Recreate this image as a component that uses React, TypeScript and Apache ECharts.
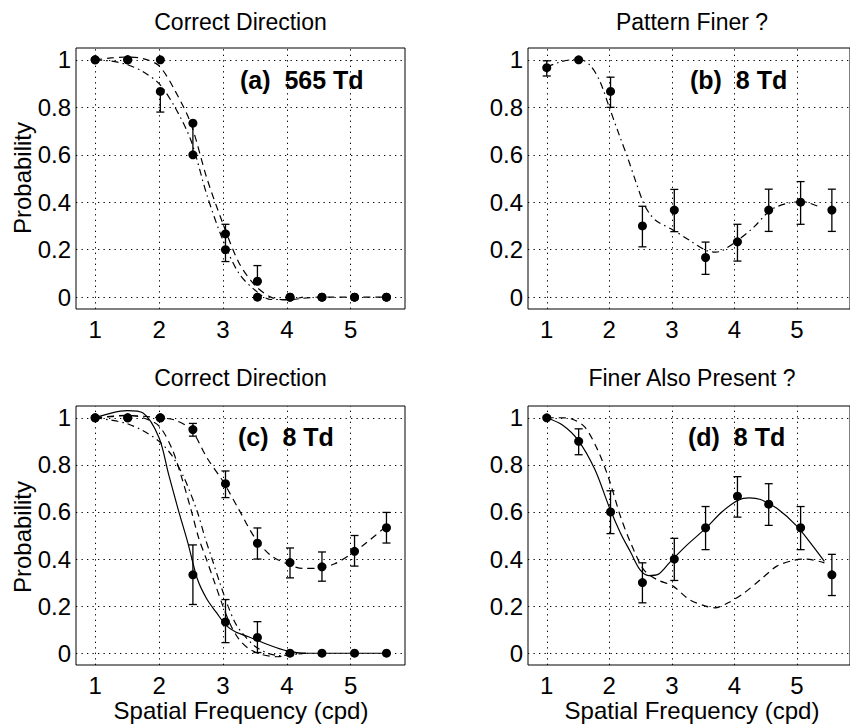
import React, { useEffect, useRef } from "react";
import * as echarts from "echarts";

const FONT = "'Liberation Sans', Arial, Helvetica, sans-serif";

// measured spatial frequencies (cpd)
const xPts = [1.0, 1.51, 2.02, 2.53, 3.04, 3.54, 4.05, 4.55, 5.06, 5.56];
const xTicks = [1, 2, 3, 4, 5];
const yTicks = [0, 0.2, 0.4, 0.6, 0.8, 1];

const titles = ["Correct Direction", "Pattern Finer ?", "Correct Direction", "Finer Also Present ?"];
const panelLabels = ["(a)  565 Td", "(b)  8 Td", "(c)  8 Td", "(d)  8 Td"];

// (a) 565 Td
const aSet1 = [1, 1, 1, 0.733, 0.267, 0.067, 0, 0, 0, 0];
const aSet2 = [1, 1, 0.867, 0.6, 0.2, 0, 0, 0, 0, 0];
const aErr = [[2.02, 0.78, 0.867], [2.53, 0.6, 0.733], [3.04, 0.15, 0.307], [3.54, 0.067, 0.133]];
const aDashX = [1, 1.25, 1.5, 1.75, 2, 2.25, 2.5, 2.75, 3, 3.25, 3.5, 3.75, 4, 4.25, 4.5, 5, 5.56];
const aDashY = [1, 1.008, 1.012, 1.005, 0.975, 0.87, 0.73, 0.5, 0.31, 0.145, 0.05, 0.0, -0.012, -0.005, 0, 0, 0];
const aDotX = [1, 1.25, 1.5, 1.75, 2, 2.25, 2.5, 2.75, 3, 3.25, 3.5, 3.75, 4, 4.25];
const aDotY = [1, 0.995, 0.98, 0.95, 0.9, 0.8, 0.66, 0.43, 0.24, 0.1, 0.03, -0.01, -0.01, 0];

// (b) Pattern finer
const bSet = [0.967, 1.0, 0.867, 0.3, 0.367, 0.167, 0.233, 0.367, 0.4, 0.367];
const bErr = [[1.0, 0.932, 0.996], [2.02, 0.8, 0.927], [2.53, 0.212, 0.383], [3.04, 0.276, 0.454], [3.54, 0.096, 0.232], [4.05, 0.152, 0.307], [4.55, 0.277, 0.455], [5.06, 0.307, 0.487], [5.56, 0.277, 0.455]];
const bCurveX = [1, 1.2, 1.4, 1.55, 1.7, 1.85, 2.0, 2.15, 2.29, 2.42, 2.55, 2.65, 2.76, 3.02, 3.28, 3.54, 3.7, 3.8, 4.06, 4.32, 4.58, 4.84, 5.1, 5.33];
const bCurveY = [0.97, 0.99, 1.0, 1.0, 0.975, 0.91, 0.8, 0.69, 0.59, 0.49, 0.395, 0.35, 0.32, 0.283, 0.24, 0.198, 0.19, 0.195, 0.24, 0.297, 0.367, 0.395, 0.402, 0.384];

// (c) 8 Td
const cSet1 = [1, 1, 1, 0.95, 0.72, 0.467, 0.385, 0.367, 0.433, 0.533];
const cSet2 = [1, 1, 1, 0.333, 0.133, 0.067, 0, 0, 0, 0];
const cErr = [[2.53, 0.922, 0.976], [3.04, 0.661, 0.774], [3.54, 0.4, 0.532], [4.05, 0.32, 0.447], [4.55, 0.306, 0.43], [5.06, 0.37, 0.5], [5.56, 0.468, 0.598], [2.53, 0.207, 0.46], [3.04, 0.045, 0.228], [3.54, 0.003, 0.134]];
const cUpperX = [1, 1.5, 2, 2.25, 2.5, 2.75, 3.0, 3.25, 3.5, 3.75, 4.0, 4.25, 4.5, 4.75, 5.0, 5.25, 5.56];
const cUpperY = [1, 1.01, 1.0, 0.99, 0.95, 0.83, 0.73, 0.61, 0.49, 0.415, 0.38, 0.36, 0.36, 0.38, 0.42, 0.47, 0.54];
const cSolidX = [1, 1.25, 1.5, 1.75, 2.0, 2.15, 2.3, 2.45, 2.6, 2.75, 2.9, 3.05, 3.2, 3.4, 3.7, 4.0, 4.3, 5.56];
const cSolidY = [1, 1.02, 1.03, 1.02, 0.915, 0.76, 0.61, 0.47, 0.315, 0.229, 0.172, 0.118, 0.09, 0.07, 0.037, 0.01, 0, 0];
const cMidX = [1, 1.25, 1.5, 1.75, 2.0, 2.2, 2.35, 2.5, 2.62, 2.74, 2.87, 3.0, 3.12, 3.25, 3.4, 3.6, 3.85, 4.1, 4.3];
const cMidY = [1, 1.005, 1.01, 1.0, 0.965, 0.87, 0.75, 0.61, 0.49, 0.4, 0.3, 0.2, 0.12, 0.06, 0.02, -0.005, -0.015, -0.005, 0];
const cDotX = [1, 1.25, 1.5, 1.75, 2.0, 2.2, 2.4, 2.6, 2.72, 2.83, 2.95, 3.08, 3.2, 3.32, 3.5, 3.7, 3.9, 4.1, 4.3];
const cDotY = [1, 0.99, 0.975, 0.945, 0.9, 0.84, 0.74, 0.6, 0.49, 0.4, 0.3, 0.2, 0.125, 0.08, 0.03, 0.0, -0.01, -0.005, 0];

// (d) Finer also present
const dSet = [1, 0.9, 0.6, 0.3, 0.4, 0.533, 0.667, 0.633, 0.533, 0.333];
const dErr = [[1.51, 0.843, 0.953], [2.02, 0.508, 0.69], [2.53, 0.214, 0.384], [3.04, 0.309, 0.488], [3.54, 0.44, 0.623], [4.05, 0.578, 0.75], [4.55, 0.543, 0.72], [5.06, 0.44, 0.623], [5.56, 0.245, 0.42]];
const dSolidX = [1, 1.245, 1.5, 1.77, 2.0, 2.18, 2.34, 2.49, 2.63, 2.78, 2.96, 3.22, 3.54, 3.8, 4.06, 4.24, 4.42, 4.68, 5.0, 5.26, 5.44];
const dSolidY = [1, 0.97, 0.905, 0.78, 0.62, 0.51, 0.43, 0.355, 0.33, 0.335, 0.384, 0.454, 0.53, 0.6, 0.65, 0.66, 0.653, 0.616, 0.54, 0.454, 0.39];
const dDashX = [1, 1.19, 1.4, 1.61, 1.82, 2.0, 2.18, 2.34, 2.55, 2.76, 3.02, 3.28, 3.54, 3.69, 3.9, 4.16, 4.42, 4.68, 4.94, 5.15, 5.44];
const dDashY = [1, 1.0, 0.995, 0.96, 0.86, 0.736, 0.58, 0.47, 0.355, 0.313, 0.285, 0.228, 0.2, 0.193, 0.214, 0.257, 0.313, 0.37, 0.394, 0.4, 0.384];

const DASH = [7, 5];
const DASHDOT = [7, 4, 1.5, 4];

const zip = (xs: number[], ys: number[]) => xs.map((x, i) => [x, ys[i]]);

const grids = [
  { left: 76, top: 48, width: 329, height: 261 },
  { left: 528, top: 48, width: 329, height: 261 },
  { left: 76, top: 406, width: 329, height: 259 },
  { left: 528, top: 406, width: 329, height: 259 },
];

function curve(i: number, xs: number[], ys: number[], type: any) {
  return {
    type: "line", xAxisIndex: i, yAxisIndex: i, data: zip(xs, ys),
    symbol: "none", showSymbol: false, smooth: 0.3, silent: true, z: 2,
    lineStyle: { color: "#000", width: 1.2, type, opacity: 1 },
  };
}

function dots(i: number, ys: number[], withGrid: boolean) {
  const s: any = {
    type: "scatter", xAxisIndex: i, yAxisIndex: i, data: zip(xPts, ys),
    symbol: "circle", symbolSize: 9, itemStyle: { color: "#000", opacity: 1 }, z: 5, silent: true,
  };
  if (withGrid) {
    s.markLine = {
      silent: true, symbol: ["none", "none"], label: { show: false }, z: 1,
      lineStyle: { color: "#000", width: 1, type: [1.3, 4.2], opacity: 1 },
      emphasis: { disabled: true },
      data: [...yTicks.map((v) => ({ yAxis: v })), ...xTicks.map((v) => ({ xAxis: v }))],
    };
  }
  return s;
}

function errBars(i: number, data: number[][]) {
  return {
    type: "custom", xAxisIndex: i, yAxisIndex: i, data, silent: true, z: 4,
    encode: { x: 0, y: [1, 2] },
    renderItem: (params: any, api: any) => {
      const x = api.value(0);
      const lo = api.coord([x, api.value(1)]);
      const hi = api.coord([x, api.value(2)]);
      const w = 4;
      const st = { stroke: "#000", lineWidth: 1.3 };
      return {
        type: "group",
        children: [
          { type: "line", shape: { x1: lo[0], y1: lo[1], x2: hi[0], y2: hi[1] }, style: st },
          { type: "line", shape: { x1: lo[0] - w, y1: lo[1], x2: lo[0] + w, y2: lo[1] }, style: st },
          { type: "line", shape: { x1: hi[0] - w, y1: hi[1], x2: hi[0] + w, y2: hi[1] }, style: st },
        ],
      };
    },
  };
}

export default function App() {
  const ref = useRef<HTMLDivElement>(null);
  useEffect(() => {
    if (!ref.current) return;
    const chart = echarts.init(ref.current, null, { renderer: "svg" });
    const textStyle = { fontFamily: FONT, fontSize: 24, color: "#000" };
    const graphics: any[] = [];
    const titleCx = [240.5, 692, 240.5, 692];
    const titleCy = [22, 22, 378, 378];
    const labX = [240, 690, 238, 688];
    const labY = [80, 80, 437, 437];
    for (let i = 0; i < 4; i++) {
      graphics.push({
        type: "text", x: titleCx[i], y: titleCy[i], silent: true,
        style: { text: titles[i], font: `23px ${FONT}`, fill: "#000", textAlign: "center", textVerticalAlign: "middle" },
      });
      graphics.push({
        type: "text", x: labX[i], y: labY[i], silent: true, z: 10,
        style: { text: panelLabels[i], font: `bold 25px ${FONT}`, fill: "#000", textAlign: "left", textVerticalAlign: "middle" },
      });
    }
    [178, 537].forEach((cy) =>
      graphics.push({
        type: "text", x: 22, y: cy, rotation: Math.PI / 2, silent: true,
        style: { text: "Probability", font: `24px ${FONT}`, fill: "#000", textAlign: "center", textVerticalAlign: "middle" },
      })
    );
    [241, 692].forEach((cx) =>
      graphics.push({
        type: "text", x: cx, y: 710, silent: true,
        style: { text: "Spatial Frequency (cpd)", font: `24px ${FONT}`, fill: "#000", textAlign: "center", textVerticalAlign: "middle" },
      })
    );

    const xAxes = grids.map((_, i) => ({
      type: "value", gridIndex: i, min: 0.7, max: 5.85,
      axisLine: { show: false }, axisTick: { show: false }, splitLine: { show: false },
      axisLabel: { ...textStyle, margin: 8, customValues: xTicks, formatter: (v: number) => String(Math.round(v)) },
    }));
    const yAxes = grids.map((_, i) => ({
      type: "value", gridIndex: i, min: -0.05, max: 1.05,
      axisLine: { show: false }, axisTick: { show: false }, splitLine: { show: false },
      axisLabel: { ...textStyle, margin: 5, customValues: yTicks, formatter: (v: number) => String(+v.toFixed(1)) },
    }));

    const series: any[] = [
      // (a)
      curve(0, aDashX, aDashY, DASH),
      curve(0, aDotX, aDotY, DASHDOT),
      errBars(0, aErr),
      dots(0, aSet1, true),
      dots(0, aSet2, false),
      // (b)
      curve(1, bCurveX, bCurveY, DASHDOT),
      errBars(1, bErr),
      dots(1, bSet, true),
      // (c)
      curve(2, cUpperX, cUpperY, DASH),
      curve(2, cSolidX, cSolidY, "solid"),
      curve(2, cMidX, cMidY, DASH),
      curve(2, cDotX, cDotY, DASHDOT),
      errBars(2, cErr),
      dots(2, cSet1, true),
      dots(2, cSet2, false),
      // (d)
      curve(3, dSolidX, dSolidY, "solid"),
      curve(3, dDashX, dDashY, DASH),
      errBars(3, dErr),
      dots(3, dSet, true),
    ];

    chart.setOption({
      animation: false,
      backgroundColor: "#fff",
      grid: grids.map((g) => ({ ...g, show: true, borderColor: "#000", borderWidth: 1, backgroundColor: "transparent", containLabel: false })),
      xAxis: xAxes,
      yAxis: yAxes,
      series,
      graphic: graphics,
    });
    return () => chart.dispose();
  }, []);
  return <div ref={ref} style={{ position: "absolute", left: 0, top: 0, width: 850, height: 724 }} />;
}
